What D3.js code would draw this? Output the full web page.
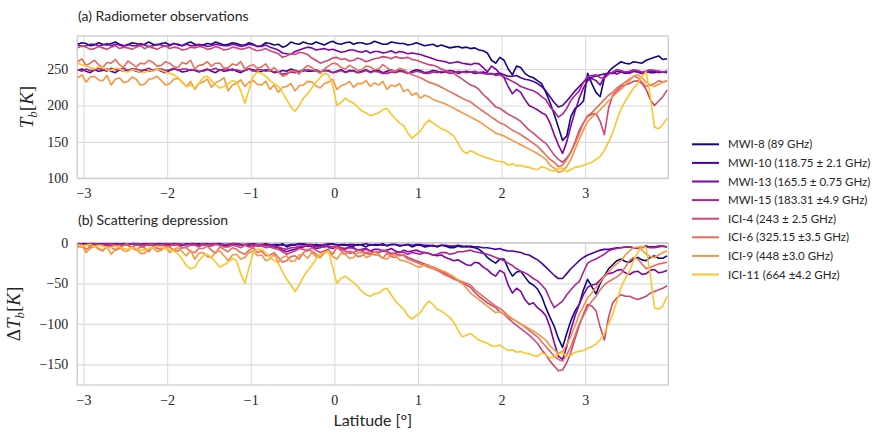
<!DOCTYPE html>
<html>
<head>
<meta charset="utf-8">
<script src="https://cdn.jsdelivr.net/npm/d3@7"></script>
<style>
body { margin: 0; background: #fff; }
.tick text { font-family: "Liberation Serif", serif; font-size: 14px; fill: #262626; }
.grid line { stroke: #dcdcdc; stroke-width: 1.1; }
.label { font-family: Lato, "Liberation Sans", sans-serif; fill: #262626; }
</style>
</head>
<body>
<script>
// latitude grid shared by all series
var lat = [-3.07,-3.02,-2.97,-2.92,-2.87,-2.82,-2.77,-2.72,-2.67,-2.62,
  -2.57,-2.52,-2.47,-2.42,-2.37,-2.32,-2.27,-2.22,-2.17,-2.12,
  -2.07,-2.02,-1.97,-1.92,-1.87,-1.82,-1.77,-1.72,-1.67,-1.62,
  -1.57,-1.52,-1.47,-1.42,-1.37,-1.32,-1.27,-1.22,-1.17,-1.12,
  -1.07,-1.02,-0.97,-0.92,-0.87,-0.82,-0.77,-0.72,-0.67,-0.62,
  -0.57,-0.52,-0.47,-0.42,-0.37,-0.32,-0.27,-0.22,-0.17,-0.12,
  -0.07,-0.02,0.03,0.08,0.13,0.18,0.23,0.28,0.33,0.38,
  0.43,0.48,0.53,0.58,0.63,0.68,0.73,0.78,0.83,0.88,
  0.93,0.98,1.03,1.08,1.13,1.18,1.23,1.28,1.33,1.38,
  1.43,1.48,1.53,1.58,1.63,1.68,1.73,1.78,1.83,1.88,
  1.93,1.98,2.03,2.08,2.13,2.18,2.23,2.28,2.33,2.38,
  2.43,2.48,2.53,2.58,2.63,2.68,2.73,2.78,2.83,2.88,
  2.93,2.98,3.03,3.08,3.13,3.18,3.23,3.28,3.33,3.38,
  3.43,3.48,3.53,3.58,3.63,3.68,3.73,3.78,3.83,3.88,
  3.93,3.98];

var channels = ["MWI-8 (89 GHz)", "MWI-10 (118.75 \u00b1 2.1 GHz)", "MWI-13 (165.5 \u00b1 0.75 GHz)",
  "MWI-15 (183.31 \u00b14.9 GHz)", "ICI-4 (243 \u00b1 2.5 GHz)", "ICI-6 (325.15 \u00b13.5 GHz)",
  "ICI-9 (448 \u00b13.0 GHz)", "ICI-11 (664 \u00b14.2 GHz)"];

var xTicks = [-3, -2, -1, 0, 1, 2, 3];
var tbTicks = [100, 150, 200, 250];
var dtbTicks = [-150, -100, -50, 0];

// (a) brightness temperatures [K]
var tbMWI8 = [284,286,285,282,283,286,284,283,285,287,284,282,283,286,285,283,284,287,284,283,
  285,286,283,285,284,282,285,287,284,283,283,285,284,287,285,283,284,286,285,283,
  283,286,284,281,282,286,285,283,284,280,282,287,285,284,287,285,284,287,285,283,
  286,288,285,284,286,287,284,286,286,284,285,288,286,284,284,287,286,285,285,283,
  284,286,284,282,283,284,281,283,281,279,280,281,279,280,
  278,279,276,275,272,262,258,266,262,250,242,254,252,244,240,238,234,230,218,204,
  188,170,152,158,185,196,200,206,244,230,218,212,238,246,252,256,260,258,257,260,
  259,258,262,264,266,268,263,
  264];
var tbMWI10 = [248,250,247,245,249,247,248,250,247,245,249,247,248,250,247,246,249,247,248,250,
  247,245,248,250,249,246,247,249,248,246,248,250,247,245,249,247,248,250,247,245,
  248,250,249,246,247,249,248,245,246,248,247,250,248,246,249,247,247,249,246,248,
  248,245,247,249,246,248,248,245,247,249,246,248,248,245,247,249,246,248,247,244,
  247,249,248,245,246,248,247,245,246,248,247,244,246,247,
  246,244,245,246,244,243,243,244,242,240,240,241,238,236,235,233,230,226,220,212,
  204,198,200,206,213,220,226,232,236,239,240,242,243,244,244,247,246,244,245,247,
  246,244,247,245,245,247,246,
  245];
var tbMWI13 = [283,281,282,284,284,282,283,285,282,284,283,281,284,282,282,285,283,281,282,284,
  283,281,282,285,283,282,284,282,282,284,283,281,282,284,283,282,282,284,283,281,
  282,284,283,281,281,283,280,278,276,272,271,270,274,276,278,280,279,276,277,278,
  276,277,275,273,274,276,276,274,273,275,272,274,274,272,273,275,272,274,273,271,
  272,271,270,268,266,264,262,261,260,258,259,260,258,257,
  256,258,257,252,246,254,250,244,238,226,216,222,218,208,200,197,194,190,187,176,
  160,146,134,150,172,192,210,224,234,237,234,228,240,244,245,243,246,245,244,247,
  246,244,245,247,247,245,246,
  247];
var tbMWI15 = [249,247,250,248,248,251,249,247,251,249,249,251,248,250,250,248,249,251,248,250,
  250,248,249,251,248,250,250,248,249,247,247,249,249,251,248,250,250,248,249,247,
  248,250,247,249,249,247,248,246,246,243,244,246,245,247,247,249,248,247,246,248,
  247,245,246,248,245,247,247,245,246,248,245,247,246,244,244,246,245,247,246,244,
  245,247,246,244,244,246,245,247,246,244,245,247,246,245,
  246,247,245,244,243,244,241,242,239,236,233,230,226,224,222,220,217,212,208,198,
  192,184,188,196,207,214,220,232,240,241,242,238,237,243,246,249,248,246,247,249,
  248,246,247,249,248,247,246,
  247];
var tbICI4 = [279,282,280,277,278,281,279,277,280,282,278,280,279,277,280,282,278,281,279,277,
  280,282,278,280,279,276,277,280,279,281,280,277,278,281,279,276,277,280,279,277,
  278,280,277,275,276,278,275,273,271,266,268,271,270,273,272,270,265,262,258,260,
  262,265,266,263,264,261,262,265,263,260,262,264,265,267,266,264,267,265,265,266,
  263,262,260,258,256,255,253,250,248,246,244,240,236,232,
  228,226,222,215,210,204,198,196,192,188,185,182,178,172,166,162,157,152,148,140,
  132,126,122,128,136,150,166,176,185,188,189,178,160,196,214,220,226,228,230,233,
  234,230,222,208,200,206,212,
  221];
var tbICI6 = [260,264,255,258,262,256,252,259,258,263,256,252,261,257,253,258,257,262,259,254,
  255,260,258,253,252,259,257,262,250,255,256,260,254,258,258,251,252,257,255,260,
  250,254,256,251,253,257,248,252,246,240,242,248,247,243,250,255,252,248,244,250,
  254,258,257,252,250,255,252,248,249,254,253,249,250,256,252,248,247,251,249,245,
  242,240,238,235,232,230,228,225,222,219,216,213,210,207,
  205,200,196,192,188,184,180,176,174,170,166,163,160,156,152,148,144,138,132,126,
  122,116,118,126,136,148,162,176,186,190,196,202,208,214,218,224,228,232,236,240,
  238,232,226,228,230,234,232,
  234];
var tbICI9 = [238,242,232,239,240,235,234,241,228,236,238,231,233,239,236,228,229,236,237,240,
  234,228,230,236,237,232,226,233,222,230,232,236,225,231,234,238,220,228,230,235,
  226,232,234,229,228,233,222,228,218,225,226,230,220,227,228,233,232,227,224,230,
  232,236,222,227,229,233,225,230,230,234,226,231,228,233,222,228,226,230,219,222,
  214,217,210,214,212,208,206,204,202,199,196,193,190,187,
  184,181,178,174,170,166,162,160,158,155,152,149,146,143,140,137,134,130,126,118,
  114,108,110,116,126,140,154,166,178,184,188,194,200,206,212,218,222,228,234,240,
  242,238,232,228,226,229,232,
  234];
var tbICI11 = [258,256,254,252,250,253,252,249,248,251,250,247,246,249,248,246,245,248,247,250,
  248,246,244,242,238,232,226,228,224,230,238,240,234,228,224,226,230,234,232,220,
  203,222,240,246,244,240,234,230,226,218,208,198,192,200,210,216,224,232,238,244,
  242,228,200,204,210,206,203,198,192,190,186,188,190,194,196,188,182,176,172,162,
  155,160,165,174,180,176,172,168,166,162,158,148,138,134,
  138,135,132,130,128,126,124,123,122,118,120,117,118,116,115,113,112,116,114,111,
  110,113,114,109,112,115,116,118,120,122,126,130,138,150,162,180,195,206,215,224,
  230,240,246,212,170,168,174,
  182];

// (b) scattering depression [K]
var dtbMWI8 = [-2,-1,-1,-3,-3,-1,-2,-3,-1,-2,-2,-1,-3,-1,-1,-2,-2,-1,-2,-3,
  -1,-2,-3,-1,-2,-3,-1,-2,-2,-1,-3,-2,-2,-1,-1,-3,-2,-1,-1,-2,
  -3,-1,-2,-3,-4,-2,-2,-4,-3,-1,-5,-3,-3,-1,-2,-4,-4,-2,-3,-5,
  -2,-1,-3,-2,-2,-4,-4,-2,-3,-5,-2,-3,-3,-1,-4,-2,-2,-4,-3,-2,
  -5,-3,-3,-5,-4,-3,-5,-3,-4,-6,-6,-4,-5,-4,
  -5,-6,-8,-12,-18,-22,-25,-20,-20,-32,-41,-36,-35,-42,-49,-52,-57,-66,-80,-92,
  -103,-118,-129,-112,-96,-84,-76,-58,-45,-54,-63,-50,-41,-32,-27,-22,-20,-23,-24,-20,
  -18,-21,-22,-18,-16,-19,-19,
  -16];
var dtbMWI10 = [-1,-2,-2,-1,-1,-2,-1,-1,-2,-1,-1,-2,-2,-1,-1,-2,-1,-1,-2,-1,
  -1,-2,-2,-1,-1,-2,-2,-1,-1,-2,-1,-1,-2,-1,-1,-2,-2,-1,-1,-2,
  -2,-3,-1,-2,-2,-1,-3,-2,-2,-3,-3,-2,-2,-1,-1,-2,-2,-3,-3,-2,
  -1,-2,-2,-3,-3,-2,-2,-3,-2,-1,-3,-2,-2,-3,-3,-2,-2,-3,-3,-2,
  -3,-2,-2,-3,-3,-4,-4,-3,-3,-4,-4,-3,-4,-5,
  -4,-5,-5,-6,-6,-7,-8,-7,-9,-10,-10,-11,-12,-14,-15,-18,-21,-25,-30,-35,
  -40,-44,-44,-38,-32,-27,-22,-18,-15,-13,-11,-9,-8,-8,-7,-6,-6,-5,-5,-6,
  -6,-5,-4,-5,-5,-4,-4,
  -5];
var dtbMWI13 = [-2,-1,-3,-2,-2,-3,-1,-2,-3,-1,-2,-3,-2,-1,-3,-2,-1,-3,-2,-1,
  -2,-3,-3,-1,-2,-3,-2,-1,-1,-3,-3,-2,-2,-1,-2,-3,-3,-1,-2,-3,
  -3,-2,-2,-4,-3,-2,-4,-5,-6,-9,-11,-9,-8,-6,-5,-3,-4,-7,-6,-4,
  -5,-7,-4,-6,-7,-5,-6,-9,-8,-7,-10,-8,-8,-10,-9,-7,-10,-12,-9,-11,
  -10,-9,-11,-12,-13,-15,-16,-15,-18,-20,-22,-21,-24,-27,
  -28,-24,-25,-30,-33,-38,-41,-34,-37,-52,-62,-56,-60,-70,-76,-74,-80,-84,-90,-104,
  -123,-140,-144,-128,-107,-90,-76,-64,-55,-52,-51,-46,-41,-38,-37,-34,-33,-37,-39,-36,
  -35,-39,-38,-34,-33,-37,-36,
  -34];
var dtbMWI15 = [-1,-3,-2,-1,-1,-2,-2,-1,-1,-3,-1,-2,-2,-1,-1,-3,-2,-1,-1,-2,
  -2,-1,-1,-3,-1,-2,-2,-1,-2,-3,-1,-2,-2,-1,-3,-2,-2,-1,-1,-3,
  -2,-1,-3,-2,-2,-4,-3,-4,-5,-7,-8,-6,-6,-4,-4,-3,-3,-5,-5,-3,
  -4,-5,-6,-7,-8,-6,-7,-9,-9,-8,-10,-11,-12,-10,-11,-13,-13,-11,-12,-14,
  -12,-13,-14,-12,-13,-15,-14,-12,-12,-14,-13,-11,-11,-10,
  -9,-11,-12,-13,-14,-16,-18,-20,-22,-25,-28,-32,-35,-37,-40,-44,-47,-52,-58,-70,
  -80,-76,-72,-64,-58,-52,-48,-36,-25,-22,-20,-17,-14,-10,-8,-7,-6,-5,-5,-6,
  -7,-6,-5,-6,-6,-5,-4,
  -5];
var dtbICI4 = [-3,-5,-2,-4,-4,-2,-3,-5,-2,-3,-5,-3,-3,-6,-2,-4,-4,-2,-3,-5,
  -2,-4,-4,-2,-3,-6,-5,-3,-3,-5,-2,-4,-4,-2,-3,-5,-5,-3,-4,-6,
  -3,-5,-5,-3,-4,-6,-5,-7,-8,-11,-14,-12,-10,-7,-8,-10,-6,-9,-12,-10,
  -8,-5,-4,-8,-10,-13,-12,-9,-10,-13,-14,-11,-12,-9,-10,-14,-13,-16,-15,-18,
  -20,-22,-24,-26,-28,-30,-32,-35,-38,-41,-44,-47,-50,-52,
  -55,-61,-66,-70,-74,-77,-80,-85,-88,-93,-98,-102,-106,-110,-114,-119,-124,-132,-138,-146,
  -152,-158,-157,-148,-135,-118,-102,-88,-76,-78,-84,-104,-120,-92,-74,-68,-64,-66,-66,-68,
  -70,-68,-66,-62,-60,-58,-56,
  -53];
var dtbICI6 = [-4,-2,-8,-5,-3,-7,-10,-4,-5,-9,-7,-3,-3,-6,-9,-5,-6,-11,-4,-7,
  -8,-4,-5,-9,-10,-6,-6,-11,-12,-7,-7,-4,-9,-13,-5,-8,-11,-6,-8,-12,
  -14,-9,-6,-12,-10,-16,-15,-12,-18,-24,-22,-17,-16,-20,-12,-8,-10,-14,-18,-12,
  -9,-14,-6,-10,-14,-10,-12,-17,-16,-12,-11,-15,-15,-19,-13,-17,-18,-14,-16,-20,
  -22,-24,-26,-28,-30,-32,-34,-37,-40,-42,-45,-46,-48,-50,
  -52,-58,-62,-66,-70,-74,-78,-81,-85,-90,-94,-97,-100,-104,-108,-112,-116,-122,-128,-134,
  -140,-144,-146,-138,-128,-114,-100,-90,-80,-72,-66,-58,-52,-48,-45,-42,-38,-30,-22,-18,
  -20,-26,-32,-30,-28,-26,-25,
  -24];
var dtbICI9 = [-6,-3,-12,-7,-4,-8,-9,-5,-14,-8,-5,-10,-10,-6,-7,-13,-13,-7,-6,-11,
  -9,-5,-12,-8,-6,-11,-16,-9,-20,-13,-12,-17,-18,-11,-10,-16,-22,-15,-14,-20,
  -18,-12,-10,-16,-15,-22,-20,-14,-24,-18,-16,-23,-22,-15,-14,-19,-12,-17,-18,-13,
  -10,-17,-20,-13,-14,-19,-18,-12,-12,-18,-16,-11,-14,-19,-20,-15,-15,-21,-22,-24,
  -26,-29,-30,-27,-28,-31,-32,-34,-36,-39,-42,-46,-50,-56,
  -62,-66,-70,-74,-78,-82,-86,-85,-88,-91,-94,-97,-100,-103,-106,-109,-112,-116,-120,-127,
  -132,-136,-134,-126,-115,-102,-88,-78,-68,-62,-55,-48,-42,-36,-30,-26,-22,-15,-10,-6,
  -5,-9,-14,-17,-18,-15,-12,
  -10];
var dtbICI11 = [-2,-4,-3,-2,-5,-3,-4,-6,-6,-4,-5,-7,-8,-6,-7,-9,-9,-7,-6,-4,
  -5,-7,-8,-10,-14,-20,-28,-32,-30,-22,-16,-14,-18,-24,-30,-27,-24,-19,-22,-38,
  -50,-30,-12,-8,-8,-12,-18,-22,-25,-36,-45,-52,-60,-52,-42,-34,-28,-20,-14,-12,
  -10,-30,-50,-44,-41,-45,-49,-54,-60,-64,-66,-63,-62,-58,-56,-64,-72,-77,-82,-90,
  -94,-90,-86,-78,-72,-76,-82,-84,-88,-92,-98,-108,-116,-114,
  -112,-116,-120,-122,-124,-127,-128,-126,-130,-133,-132,-135,-134,-136,-137,-139,-140,-136,-138,-142,
  -141,-137,-136,-140,-139,-135,-134,-133,-130,-128,-125,-120,-112,-100,-88,-72,-55,-44,-35,-22,
  -12,-4,-6,-40,-80,-82,-78,
  -66];

var tbSeries = [tbMWI8, tbMWI10, tbMWI13, tbMWI15, tbICI4, tbICI6, tbICI9, tbICI11];
var dtbSeries = [dtbMWI8, dtbMWI10, dtbMWI13, dtbMWI15, dtbICI4, dtbICI6, dtbICI9, dtbICI11];

var color = function(i) { return d3.interpolatePlasma(i / 8); };

var left = 77.3, right = 668.3;

var svg = d3.select("body").append("svg")
    .attr("width", 881)
    .attr("height", 432)
    .style("font-family", "Lato, sans-serif");

var x = d3.scaleLinear()
    .domain([-3.075, 3.995])
    .range([left, right]);

function drawPanel(id, y, top, bottom, yTicks, series, title, titleY) {
  var g = svg.append("g");

  svg.append("clipPath")
      .attr("id", id)
    .append("rect")
      .attr("x", left)
      .attr("y", top)
      .attr("width", right - left)
      .attr("height", bottom - top);

  g.append("g")
      .attr("class", "grid x")
      .attr("transform", "translate(0," + bottom + ")")
      .call(d3.axisBottom(x).tickValues(xTicks).tickFormat(d3.format("d"))
        .tickSize(-(bottom - top)).tickPadding(10))
      .call(function(a) { a.select(".domain").remove(); });

  g.append("g")
      .attr("class", "grid y")
      .attr("transform", "translate(" + left + ",0)")
      .call(d3.axisLeft(y).tickValues(yTicks).tickFormat(d3.format("d"))
        .tickSize(-(right - left)).tickPadding(9))
      .call(function(a) { a.select(".domain").remove(); });

  g.append("rect")
      .attr("x", left)
      .attr("y", top)
      .attr("width", right - left)
      .attr("height", bottom - top)
      .style("fill", "none")
      .style("stroke", "#cccccc")
      .style("stroke-width", 1.3);

  var line = d3.line()
      .x(function(d, i) { return x(lat[i]); })
      .y(function(d) { return y(d); });

  g.append("g")
      .attr("clip-path", "url(#" + id + ")")
    .selectAll("path")
      .data(series)
    .enter().append("path")
      .attr("d", line)
      .style("fill", "none")
      .style("stroke", function(d, i) { return color(i); })
      .style("stroke-width", 1.6)
      .style("stroke-linejoin", "round");

  svg.append("text")
      .attr("class", "label")
      .attr("x", 78)
      .attr("y", titleY)
      .style("font-size", "14px")
      .text(title);
}

var yA = d3.scaleLinear()
    .domain([100, 295.3])
    .range([178.3, 36]);

var yB = d3.scaleLinear()
    .domain([-175.5, 0.2])
    .range([385, 242.7]);

drawPanel("clipA", yA, 36, 178.3, tbTicks, tbSeries, "(a) Radiometer observations", 21);
drawPanel("clipB", yB, 242.7, 385, dtbTicks, dtbSeries, "(b) Scattering depression", 225);

// y labels, math style
function mathLabel(cx, cy, delta) {
  var t = svg.append("text")
      .attr("transform", "translate(" + cx + "," + cy + ") rotate(-90)")
      .style("text-anchor", "middle")
      .style("font-family", "'Liberation Serif', serif")
      .style("font-size", "19px")
      .style("fill", "#262626");
  if (delta) t.append("tspan").text("\u0394");
  t.append("tspan").style("font-style", "italic").text("T");
  t.append("tspan").style("font-style", "italic").style("font-size", "13px").attr("dy", 4).text("b");
  t.append("tspan").attr("dy", -4).text("[");
  t.append("tspan").style("font-style", "italic").text("K");
  t.append("tspan").text("]");
}
mathLabel(33, 107, false);
mathLabel(20, 314, true);

svg.append("text")
    .attr("class", "label")
    .attr("x", (left + right) / 2)
    .attr("y", 426)
    .style("text-anchor", "middle")
    .style("font-size", "16px")
    .text("Latitude [\u00b0]");

// legend
var legend = svg.append("g")
  .selectAll("g")
    .data(channels)
  .enter().append("g")
    .attr("transform", function(d, i) { return "translate(692," + (144.3 + i * 18.6) + ")"; });

legend.append("line")
    .attr("x1", 0)
    .attr("x2", 27)
    .style("stroke", function(d, i) { return color(i); })
    .style("stroke-width", 2);

legend.append("text")
    .attr("class", "label")
    .attr("x", 36)
    .attr("dy", "0.35em")
    .style("font-size", "11.5px")
    .text(function(d) { return d; });
</script>
</body>
</html>
